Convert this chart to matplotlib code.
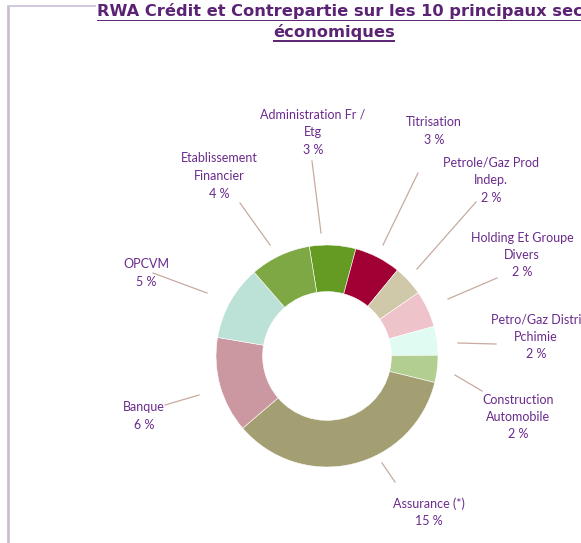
import matplotlib
matplotlib.use("Agg")
import matplotlib.pyplot as plt

# ---- data ----
sectors = ["Administration Fr /\nEtg", "Titrisation", "Petrole/Gaz Prod\nIndep.",
           "Holding Et Groupe\nDivers", "Petro/Gaz Distri\nPchimie", "Construction\nAutomobile",
           "Assurance (*)", "Banque", "OPCVM", "Etablissement\nFinancier"]
values = [2.9, 2.9, 1.9, 2.3, 1.8, 1.7, 15.0, 6.0, 4.7, 3.8]
colors = ["#659B23", "#A00033", "#CFC9AA", "#EEC3C9", "#E0FCF2", "#B2CF91",
          "#A39F72", "#CB97A0", "#BCE1D6", "#7EA843"]
title1 = "RWA Crédit et Contrepartie sur les 10 principaux secteurs"
title2 = "économiques"

# ---- layout (pixels) ----
W, H = 581, 543
cx, cy, R = 327, 356, 111
label_pos = [(313, 132), (434, 131), (491, 180), (522, 255), (536, 337),
             (518, 417), (429, 512), (144, 416), (146, 273), (219, 176)]
leader = [((321, 233), (312, 161)), ((383, 245), (418, 173)), ((417, 269), (476, 202)),
          ((448, 299), (497, 278)), ((458, 343), (496, 344)), ((455, 375), (482, 391)),
          ((382, 463), (395, 482)), ((199, 395), (165, 405)), ((207, 293), (153, 273)),
          ((270, 245), (240, 203))]

fig = plt.figure(figsize=(W / 100, H / 100), dpi=100)
bg = fig.add_axes([0, 0, 1, 1])
bg.set_xlim(0, W)
bg.set_ylim(H, 0)
bg.axis("off")

# frame
bg.plot([8, 8], [6, H], color="#C9BFD5", lw=2, solid_capstyle="butt")
bg.plot([8, 100], [6, 6], color="#C9BFD5", lw=1.2)

# donut
pax = fig.add_axes([(cx - R) / W, (H - cy - R) / H, 2 * R / W, 2 * R / H])
pax.pie(values, colors=colors, startangle=99.2, counterclock=False,
        radius=1, wedgeprops=dict(width=0.42, edgecolor="white", linewidth=0.4))
pax.set_xlim(-1, 1)
pax.set_ylim(-1, 1)
pax.set_aspect("equal")
pax.axis("off")

lab_color = "#6A2B8C"
for name, v, (lx, ly), (p0, p1) in zip(sectors, values, label_pos, leader):
    bg.plot([p0[0], p1[0]], [p0[1], p1[1]], color="#C8AAA0", lw=0.9)
    bg.text(lx, ly, f"{name}\n{v:.0f} %", ha="center", va="center",
            fontsize=9.0, family="Lato", color=lab_color, linespacing=1.55)

# title
tcol = "#5B2373"
t1 = bg.text(97, 11, title1, ha="left", va="center", fontsize=11.7,
             fontweight="bold", family="DejaVu Sans", color=tcol,
             bbox=dict(facecolor="white", edgecolor="none", pad=1))
t2 = bg.text(334, 32, title2, ha="center", va="center", fontsize=11.7,
             fontweight="bold", family="DejaVu Sans", color=tcol)
fig.canvas.draw()
r = fig.canvas.get_renderer()
for t, yy in ((t1, 20), (t2, 41)):
    bb = t.get_window_extent(r)
    bg.plot([bb.x0, bb.x1], [yy, yy], color=tcol, lw=1.4, solid_capstyle="butt")

fig.savefig("out.png", dpi=100)
